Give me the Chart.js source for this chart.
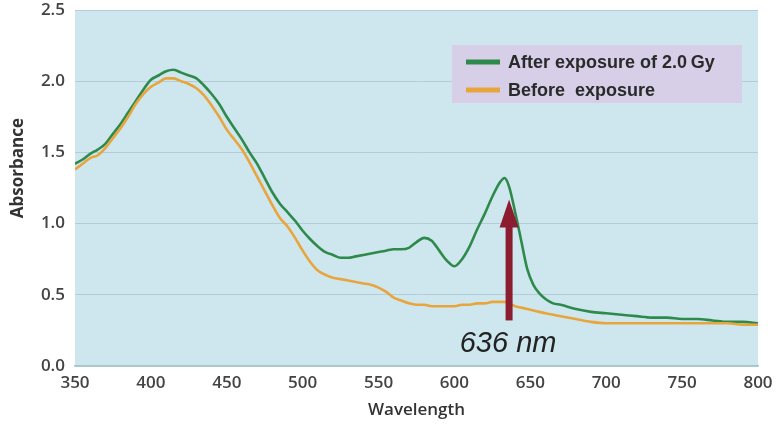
<!DOCTYPE html>
<html>
<head>
<meta charset="utf-8">
<script src="https://cdn.jsdelivr.net/npm/chart.js@4.4.1/dist/chart.umd.min.js"></script>
<style>
  html, body { margin: 0; padding: 0; background: #ffffff; }
  #spectrum { display: block; }
</style>
</head>
<body>
<canvas id="spectrum" width="779" height="434"></canvas>
<script>
(function () {
    "use strict";

    // absorbance spectra, wavelength in nm
    var wavelength = [350, 355, 360, 365, 370, 375, 380, 385, 390, 395, 400, 405, 410, 415, 420, 425, 430, 435, 440, 445,
        450, 455, 460, 465, 470, 475, 480, 485, 490, 495, 500, 505, 510, 515, 520, 525, 530, 535, 540, 545,
        550, 555, 560, 565, 570, 575, 580, 585, 590, 595, 600, 605, 610, 615, 620, 625, 630, 633, 636, 640,
        644, 648, 652, 656, 660, 665, 670, 680, 690, 700, 710, 720, 730, 740, 750, 760, 770, 780, 790, 800];

    var afterExposure = [1.42, 1.45, 1.49, 1.52, 1.56, 1.63, 1.70, 1.78, 1.86, 1.94, 2.01, 2.04, 2.07, 2.08, 2.06, 2.04, 2.02, 1.97, 1.91, 1.84,
        1.75, 1.67, 1.59, 1.50, 1.42, 1.32, 1.22, 1.14, 1.08, 1.02, 0.95, 0.89, 0.84, 0.80, 0.78, 0.76, 0.76, 0.77, 0.78, 0.79,
        0.80, 0.81, 0.82, 0.82, 0.83, 0.87, 0.90, 0.88, 0.81, 0.74, 0.70, 0.75, 0.84, 0.96, 1.07, 1.19, 1.29, 1.32, 1.26, 1.08,
        0.88, 0.68, 0.57, 0.51, 0.47, 0.44, 0.43, 0.40, 0.38, 0.37, 0.36, 0.35, 0.34, 0.34, 0.33, 0.33, 0.32, 0.31, 0.31, 0.30];

    var beforeExposure = [1.38, 1.42, 1.46, 1.48, 1.53, 1.60, 1.67, 1.75, 1.84, 1.91, 1.96, 1.99, 2.02, 2.02, 2.00, 1.98, 1.95, 1.90, 1.83, 1.75,
        1.66, 1.59, 1.52, 1.43, 1.33, 1.23, 1.13, 1.04, 0.98, 0.90, 0.81, 0.73, 0.67, 0.64, 0.62, 0.61, 0.60, 0.59, 0.58, 0.57,
        0.55, 0.52, 0.48, 0.46, 0.44, 0.43, 0.43, 0.42, 0.42, 0.42, 0.42, 0.43, 0.43, 0.44, 0.44, 0.45, 0.45, 0.45, 0.44, 0.42,
        0.41, 0.40, 0.39, 0.38, 0.37, 0.36, 0.35, 0.33, 0.31, 0.30, 0.30, 0.30, 0.30, 0.30, 0.30, 0.30, 0.30, 0.30, 0.29, 0.29];

    var seriesNames = ["After exposure of 2.0\u2009Gy", "Before  exposure"];
    var xTicks = [350, 400, 450, 500, 550, 600, 650, 700, 750, 800];
    var yTicks = [0, 0.5, 1.0, 1.5, 2.0, 2.5];
    var peakNm = 636;

    function points(ys) {
        return wavelength.map(function (w, i) { return { x: w, y: ys[i] }; });
    }

    var axisFont = { family: "'Open Sans', sans-serif", size: 17, weight: "600" };

    // light blue panel behind the plot
    var plotBackground = {
        id: "plotBackground",
        beforeDraw: function (chart) {
            var a = chart.chartArea, c = chart.ctx;
            c.save();
            c.fillStyle = "#cee7ef";
            c.fillRect(a.left, a.top, a.right - a.left, a.bottom - a.top);
            c.restore();
        }
    };

    // y axis caption, set a little above the middle of the axis
    var yCaption = {
        id: "yCaption",
        afterDraw: function (chart) {
            var c = chart.ctx;
            c.save();
            c.translate(18, chart.scales.y.getPixelForValue(1.39));
            c.rotate(-Math.PI / 2);
            c.font = "700 17px 'Open Sans', sans-serif";
            c.fillStyle = "#333333";
            c.textAlign = "center";
            c.textBaseline = "middle";
            c.fillText("Absorbance", 0, 0);
            c.restore();
        }
    };

    // arrow marking the new band, with its label
    var peakArrow = {
        id: "peakArrow",
        afterDatasetsDraw: function (chart) {
            var c = chart.ctx;
            var x = chart.scales.x.getPixelForValue(peakNm);
            var yBase = chart.scales.y.getPixelForValue(0.32);
            var yTip = chart.scales.y.getPixelForValue(1.17);
            c.save();
            c.fillStyle = "#8c1c30";
            c.fillRect(x - 3.5, yTip + 24, 7, yBase - yTip - 24);
            c.beginPath();
            c.moveTo(x, yTip);
            c.lineTo(x + 9.5, yTip + 28);
            c.lineTo(x - 9.5, yTip + 28);
            c.closePath();
            c.fill();
            c.fillStyle = "#222222";
            c.font = "italic 29px 'Liberation Sans', Arial, sans-serif";
            c.textAlign = "center";
            c.textBaseline = "middle";
            c.fillText(peakNm + " nm", x - 1, chart.scales.y.getPixelForValue(0.155));
            c.restore();
        }
    };

    // boxed legend in the upper right of the plot
    var boxLegend = {
        id: "boxLegend",
        afterDraw: function (chart) {
            var a = chart.chartArea, c = chart.ctx;
            var w = 290, h = 58;
            var left = a.right - 16 - w, top = a.top + 35;
            c.save();
            c.fillStyle = "#d6cfe7";
            c.fillRect(left, top, w, h);
            c.font = "bold 18px 'Liberation Sans', Arial, sans-serif";
            c.textBaseline = "middle";
            chart.data.datasets.forEach(function (ds, i) {
                var y = top + 17 + i * 28;
                c.fillStyle = ds.borderColor;
                c.fillRect(left + 14, y - 2.5, 34, 5);
                c.fillStyle = "#2a2a2a";
                c.fillText(ds.label, left + 56, y + 1);
            });
            c.restore();
        }
    };

    var ctx = document.getElementById("spectrum");
    var spectrumChart = new Chart(ctx, {
        type: "line",
        data: {
            datasets: [{
                label: seriesNames[0],
                data: points(afterExposure),
                borderColor: "#2e8a4b",
                borderWidth: 2.6,
                order: 2
            }, {
                label: seriesNames[1],
                data: points(beforeExposure),
                borderColor: "#e9a53d",
                borderWidth: 2.6,
                order: 1
            }]
        },
        options: {
            responsive: false,
            animation: false,
            layout: { padding: { top: 10, right: 21, left: 0, bottom: 0 } },
            elements: {
                point: { radius: 0 },
                line: { cubicInterpolationMode: "monotone" }
            },
            plugins: {
                legend: { display: false },
                tooltip: { enabled: false }
            },
            scales: {
                x: {
                    type: "linear",
                    min: 350,
                    max: 800,
                    afterBuildTicks: function (scale) {
                        scale.ticks = xTicks.map(function (v) { return { value: v }; });
                    },
                    afterFit: function (scale) {
                        scale.height = 68;
                        scale.paddingLeft = 0;
                        scale.paddingRight = 0;
                    },
                    grid: { display: false, drawTicks: false },
                    border: { display: true, color: "#a9c4cd", width: 1.5 },
                    ticks: { font: axisFont, color: "#444444", padding: 7, maxRotation: 0 },
                    title: {
                        display: true,
                        text: "Wavelength",
                        font: axisFont,
                        color: "#333333",
                        padding: { top: 0, bottom: 14 }
                    }
                },
                y: {
                    min: 0,
                    max: 2.5,
                    afterBuildTicks: function (scale) {
                        scale.ticks = yTicks.map(function (v) { return { value: v }; });
                    },
                    afterFit: function (scale) {
                        scale.width = 75;
                        scale.paddingTop = 0;
                        scale.paddingBottom = 0;
                    },
                    grid: { color: "#b4ccd5", lineWidth: 1, drawTicks: false },
                    border: { display: false },
                    ticks: {
                        font: axisFont,
                        color: "#444444",
                        padding: 10,
                        callback: function (v) { return Number(v).toFixed(1); }
                    }
                }
            }
        },
        plugins: [plotBackground, peakArrow, boxLegend, yCaption]
    });
})();
</script>
</body>
</html>
